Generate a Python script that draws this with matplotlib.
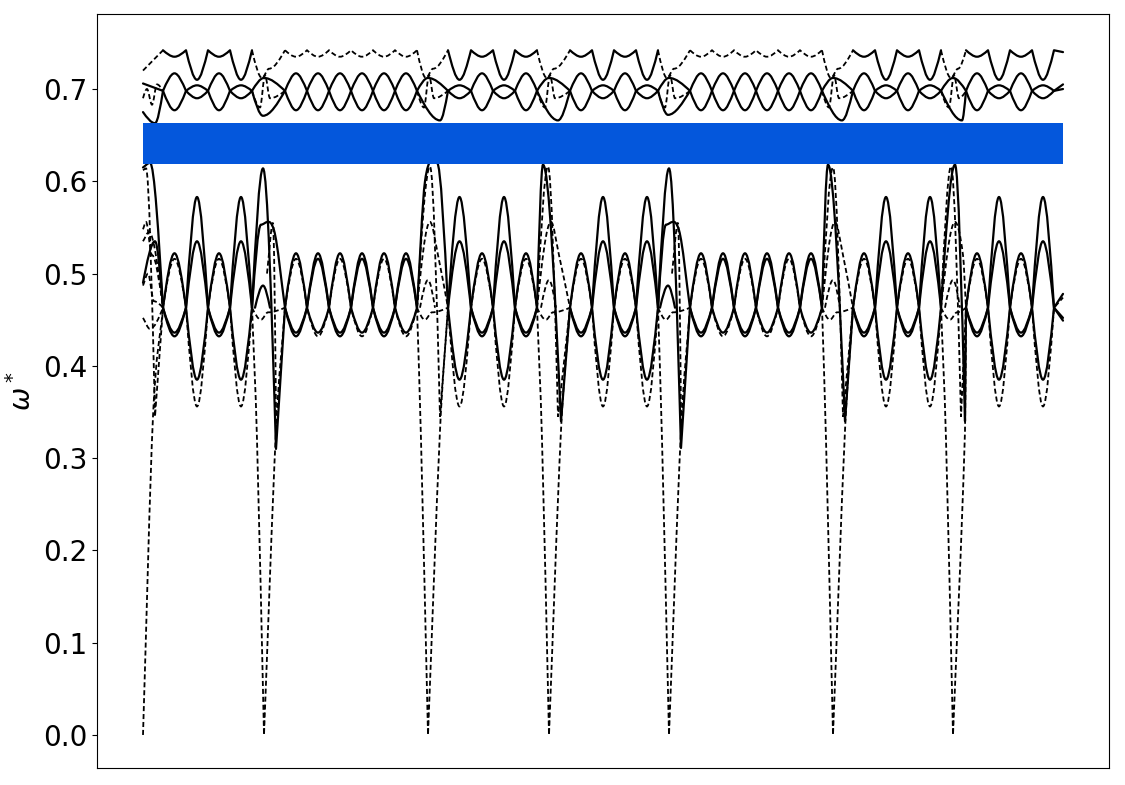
import matplotlib
matplotlib.use("Agg")
import matplotlib.pyplot as plt
from matplotlib.path import Path
from matplotlib.patches import PathPatch

# ---------------- data -------------------------------------------------------
# x = distance along the path (arbitrary units, no ticks), y = reduced frequency
BOUNDARIES = [0, 121, 285, 406, 526, 690, 810, 920]

# crossing points of the oscillating branch pairs inside each path segment
SEG_CROSS = [
    [20, 43, 65, 87, 109],
    [142, 164, 186, 208, 230, 252, 274],
    [305, 328, 350, 372, 394],
    [427, 449, 471, 493, 515],
    [547, 569, 591, 613, 635, 657, 679],
    [710, 732, 754, 776, 798],
    [823, 845, 867, 889, 911],
]
# kind of each lobe between crossings: s = small lobe, b = big lobe
SEG_KIND = ["sbsb", "ssssss", "bsbs", "sbsb", "ssssss", "sbsb", "sbsb"]

END_X = 920
END_MID = (0.478, 0.452)
END_TOP = (0.705, 0.700)
END_TC = 0.740

MID_CROSS = 0.463
MID_SOLID = {"us": 0.522, "ds": 0.436, "ub": 0.583, "db": 0.385}
MID_DASH = {"us": 0.516, "ds": 0.432, "ub": 0.535, "db": 0.356}
TOP_CROSS = 0.698
TOP_PAIR = {"us": 0.717, "ds": 0.677, "ub": 0.704, "db": 0.690}
TOP_PEAK = 0.742
TOP_DIP = {"s": 0.735, "b": 0.710}

GAP_LOW, GAP_HIGH = 0.6186, 0.6637

# symmetry points (interior) and their neighbourhood
BND_X = [121, 285, 406, 526, 690, 810]
BND_L = [109, 274, 394, 515, 679, 798]
BND_R = [142, 305, 427, 547, 710, 823]
BND_PEAK_X = [120, 294, 400, 526, 685, 812]
BND_PEAK_Y = [0.614, 0.620, 0.618, 0.614, 0.618, 0.618]
BND_DIP_Y = [0.310, None, 0.340, 0.311, 0.340, 0.340]
BND_DPEAK_X = [None, 287, 405, None, 690, 808]
BND_DPEAK_Y = [None, 0.616, 0.616, None, 0.615, 0.616]
BND_SOLID_SHOULDER = [True, False, False, True, False, False]
BND_TOPDIP_X = [120, 297, 415, 525, 699, 819]
BND_TOPDIP_Y = [0.671, 0.666, 0.666, 0.672, 0.666, 0.666]

# start of the path
START_SOLID = ([0, 7, 20], [0.615, 0.620, 0.463], "sec")
START_SOLID2 = ([0, 12, 20], [0.490, 0.535, 0.463], "cec")
START_DASH = [
    ([0, 3, 12, 20], [0.612, 0.614, 0.345, 0.463], "secc"),
    ([0, 10, 20], [0.0, 0.345, 0.463], "csc"),
    ([0, 3, 9, 20], [0.548, 0.556, 0.520, 0.463], "seec"),
    ([0, 6, 20], [0.535, 0.545, 0.463], "sec"),
    ([0, 5, 11, 20], [0.487, 0.500, 0.470, 0.463], "seec"),
    ([0, 7, 20], [0.452, 0.440, 0.463], "sec"),
]
START_TOP_SOLID = [
    ([0, 12, 20], [0.675, 0.663, 0.698], "cec"),
    ([0, 20], [0.706, 0.698], "cc"),
]
START_TOP_DASH = [
    ([0, 20], [0.720, 0.742], "cc"),
    ([0, 4, 9, 14, 20], [0.690, 0.700, 0.683, 0.705, 0.698], "ceeec"),
]


# ---------------- drawing helpers ------------------------------------------
def hermite_path(xs, ys, kinds):
    n = len(xs)

    def slope(i, j):
        k = kinds[i]
        sec = (ys[j] - ys[i]) / (xs[j] - xs[i])
        if k == "e":
            return 0.0
        if k == "s":
            if 0 < i < n - 1:
                return (ys[i + 1] - ys[i - 1]) / (xs[i + 1] - xs[i - 1])
            return sec
        return 1.5 * sec if kinds[j] == "e" else sec

    verts = [(xs[0], ys[0])]
    codes = [Path.MOVETO]
    for i in range(n - 1):
        w = xs[i + 1] - xs[i]
        m0 = slope(i, i + 1)
        m1 = slope(i + 1, i)
        verts += [(xs[i] + w / 3, ys[i] + m0 * w / 3),
                  (xs[i + 1] - w / 3, ys[i + 1] - m1 * w / 3),
                  (xs[i + 1], ys[i + 1])]
        codes += [Path.CURVE4] * 3
    return Path(verts, codes)


def draw(ax, xs, ys, kinds, dashed=False):
    path = hermite_path(xs, ys, kinds)
    if dashed:
        patch = PathPatch(path, fill=False, edgecolor="black", lw=1.3,
                          linestyle=(0, (2.8, 1.6)), capstyle="butt", zorder=2)
    else:
        patch = PathPatch(path, fill=False, edgecolor="black", lw=1.6,
                          linestyle="-", capstyle="round", joinstyle="round", zorder=2)
    ax.add_patch(patch)


def pair_curves(cross, kinds, cval, vals, end=None):
    out = []
    for parity in (0, 1):
        xs, ys, ks = [cross[0]], [cval], "c"
        big_up = False
        for i, kd in enumerate(kinds):
            up = (i + parity) % 2 == 0
            if up and kd == "b":
                big_up = True
            xs.append((cross[i] + cross[i + 1]) / 2)
            ys.append(vals[("u" if up else "d") + kd])
            ks += "e"
            xs.append(cross[i + 1])
            ys.append(cval)
            ks += "c"
        if end is not None:
            xs.append(end[0])
            ys.append(end[1][parity])
            ks += "s"
        out.append((xs, ys, ks, big_up, parity))
    return out


# ---------------- figure ----------------------------------------------------
fig = plt.figure(figsize=(11.25, 7.85), dpi=100)
ax = fig.add_axes([97 / 1125, 17 / 785, 1012 / 1125, 754 / 785])

n_seg = len(SEG_CROSS)
for s in range(n_seg):
    cross, kinds = SEG_CROSS[s], SEG_KIND[s]
    last = s == n_seg - 1
    # middle band, solid pair
    for xs, ys, ks, bu, par in pair_curves(cross, kinds, MID_CROSS, MID_SOLID,
                                           (END_X, END_MID) if last else None):
        draw(ax, xs, ys, ks)
    # middle band, second pair
    for xs, ys, ks, bu, par in pair_curves(cross, kinds, MID_CROSS, MID_DASH,
                                           (END_X, (END_MID[0] - 0.004, END_MID[1] - 0.003)) if last else None):
        draw(ax, xs, ys, ks, dashed=not (bu or ("b" not in kinds and par == 1)))
    # upper band pair
    for xs, ys, ks, bu, par in pair_curves(cross, kinds, TOP_CROSS, TOP_PAIR,
                                           (END_X, END_TOP) if last else None):
        draw(ax, xs, ys, ks)
    # uppermost branch: peaks at the crossings, dips in the lobes
    xs, ys, ks = [cross[0]], [TOP_PEAK], "c"
    for i, kd in enumerate(kinds):
        xs += [(cross[i] + cross[i + 1]) / 2, cross[i + 1]]
        ys += [TOP_DIP[kd], TOP_PEAK]
        ks += "ec"
    if last:
        xs.append(END_X)
        ys.append(END_TC)
        ks += "s"
    draw(ax, xs, ys, ks, dashed=("b" not in kinds))

# neighbourhoods of the symmetry points
for k in range(len(BND_X)):
    xb, xl, xr = BND_X[k], BND_L[k], BND_R[k]
    c = MID_CROSS
    # solid high lobe
    if BND_DIP_Y[k] is None:
        draw(ax, [xl, xl + 8, BND_PEAK_X[k], xr], [c, 0.600, BND_PEAK_Y[k], c], "csec")
    else:
        draw(ax, [xl, BND_PEAK_X[k], xb + 12, xr], [c, BND_PEAK_Y[k], BND_DIP_Y[k], c], "cecc")
    # dashed high lobe
    if BND_DPEAK_X[k] is not None:
        dp = BND_DPEAK_X[k]
        draw(ax, [xl, dp, dp + 10, xr], [c, BND_DPEAK_Y[k], 0.345, c], "cecc", dashed=True)
    # acoustic branch going to zero
    draw(ax, [xl, xb - 7, xb, xb + 12, xr], [c, 0.32, 0.0, 0.33, c], "cscsc", dashed=True)
    # shoulder near 0.55
    if BND_SOLID_SHOULDER[k]:
        draw(ax, [xl, xb - 3, xb + 10, xr], [c, 0.553, 0.547, c], "cesc")
        draw(ax, [xb - 9, xb - 1, xb + 6], [c, 0.487, c], "cec")
        draw(ax, [xb + 3, xb + 9, xb + 12], [0.500, 0.555, 0.350], "sec", dashed=True)
    else:
        draw(ax, [xl, xb + 2, xb + 10, xr], [c, 0.556, 0.520, c], "cesc", dashed=True)
        draw(ax, [xb - 8, xb, xb + 7], [c, 0.493, c], "cec", dashed=True)
    draw(ax, [xl, xb - 3, xb + 4, xr], [c, 0.450, 0.458, c], "ceec", dashed=True)
    # upper band around the symmetry point
    draw(ax, [xl, BND_TOPDIP_X[k], xr], [TOP_CROSS, BND_TOPDIP_Y[k], TOP_CROSS], "cec")
    draw(ax, [xl, xb, xr], [TOP_CROSS, 0.712, TOP_CROSS], "cec")
    draw(ax, [xl, xb - 2, xb + 5, xr], [TOP_PEAK, 0.712, 0.722, TOP_PEAK], "ceec", dashed=True)
    draw(ax, [xl, xb - 4, xb + 1, xb + 6, xr], [TOP_CROSS, 0.680, 0.715, 0.690, TOP_CROSS],
         "ceeec", dashed=True)

# start of the path
draw(ax, *START_SOLID)
draw(ax, *START_SOLID2)
for xs, ys, ks in START_DASH:
    draw(ax, xs, ys, ks, dashed=True)
for xs, ys, ks in START_TOP_SOLID:
    draw(ax, xs, ys, ks)
for xs, ys, ks in START_TOP_DASH:
    draw(ax, xs, ys, ks, dashed=True)

# band gap
ax.fill_between([BOUNDARIES[0], BOUNDARIES[-1]], GAP_LOW, GAP_HIGH,
                color="#0457DC", lw=0, zorder=3)

ax.set_xlim(-46, 966)
ax.set_ylim(-0.0358, 0.7813)
ax.set_xticks([])
ax.set_yticks([0.0, 0.1, 0.2, 0.3, 0.4, 0.5, 0.6, 0.7])
ax.tick_params(axis="y", labelsize=20)
ax.set_ylabel(r"$\omega^*$", fontsize=20)

fig.savefig("out.png", dpi=100)
